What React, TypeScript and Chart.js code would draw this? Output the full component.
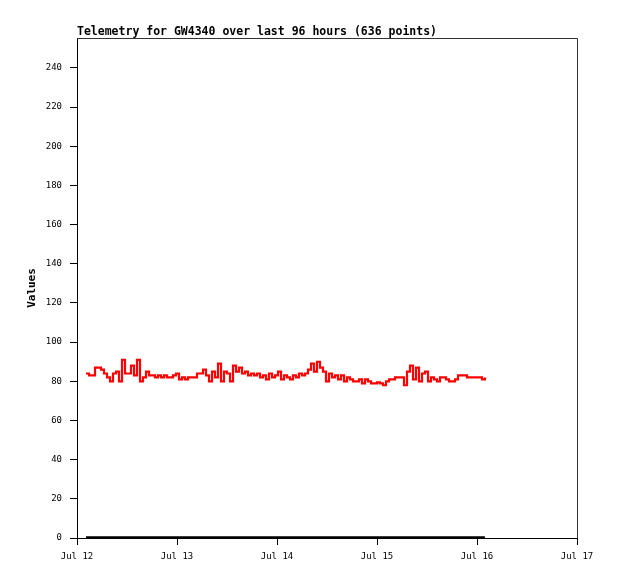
import React, { useEffect, useRef } from "react";
import { Chart, registerables, ChartConfiguration, Plugin } from "chart.js";

Chart.register(...registerables);

// hours since Jul 12 00:00
const startHour = 2.16;
const stepHour = 0.72;

const redValues = [
  84, 83, 83, 87, 87, 86, 84, 82, 80, 84, 85, 80, 91, 84, 84, 88, 83, 91, 80,
  82, 85, 83, 83, 82, 83, 82, 83, 82, 82, 83, 84, 81, 82, 81, 82, 82, 82, 84,
  84, 86, 83, 80, 85, 82, 89, 80, 85, 84, 80, 88, 85, 87, 84, 85, 83, 84, 83,
  84, 82, 83, 81, 84, 82, 83, 85, 81, 83, 82, 81, 83, 82, 84, 83, 84, 86, 89,
  85, 90, 87, 85, 80, 84, 82, 83, 81, 83, 80, 82, 81, 80, 80, 81, 79, 81, 80,
  79, 79, 79.5, 79, 78, 80, 81, 81, 82, 82, 82, 78, 85, 88, 81, 87, 80, 84, 85,
  80, 82, 81, 80, 82, 82, 81, 80, 80, 81, 83, 83, 83, 82, 82, 82, 82, 82, 81,
  82,
];

const baselineHours = [2.16, 97.9];
const baselineValues = [0.4, 0.4];

const yTicks = [0, 20, 40, 60, 80, 100, 120, 140, 160, 180, 200, 220, 240];
const xTicks = [0, 24, 48, 72, 96, 120];
const xTickLabels = ["Jul 12", "Jul 13", "Jul 14", "Jul 15", "Jul 16", "Jul 17"];

const titleText = "Telemetry for GW4340 over last 96 hours (636 points)";
const yTitleText = "Values";

const mono = "'DejaVu Sans Mono', 'Liberation Mono', monospace";

const decorations: Plugin<"line"> = {
  id: "decorations",
  afterDraw(chart) {
    const { ctx, chartArea } = chart;
    ctx.save();
    ctx.strokeStyle = "#333";
    ctx.lineWidth = 1;
    ctx.beginPath();
    ctx.moveTo(chartArea.left, chartArea.top + 0.5);
    ctx.lineTo(chartArea.right + 0.5, chartArea.top + 0.5);
    ctx.lineTo(chartArea.right + 0.5, chartArea.bottom);
    ctx.stroke();

    ctx.fillStyle = "#000";
    ctx.font = `bold 11.5px ${mono}`;
    ctx.textAlign = "left";
    ctx.textBaseline = "alphabetic";
    ctx.fillText(titleText, chartArea.left, chartArea.top - 3);

    ctx.translate(32, (chartArea.top + chartArea.bottom) / 2);
    ctx.rotate(-Math.PI / 2);
    ctx.font = `bold 11px ${mono}`;
    ctx.textAlign = "center";
    ctx.textBaseline = "middle";
    ctx.fillText(yTitleText, 0, 0);
    ctx.restore();
  },
};

const App: React.FC = () => {
  const canvasRef = useRef<HTMLCanvasElement | null>(null);

  useEffect(() => {
    if (!canvasRef.current) return;
    const ctx = canvasRef.current.getContext("2d");
    if (!ctx) return;

    const redPoints = redValues.map((v, i) => ({ x: startHour + i * stepHour, y: v }));
    const basePoints = baselineValues.map((v, i) => ({ x: baselineHours[i], y: v }));

    const config: ChartConfiguration<"line"> = {
      type: "line",
      data: {
        datasets: [
          {
            label: "baseline",
            data: basePoints,
            borderColor: "#000",
            borderWidth: 2,
            pointRadius: 0,
          },
          {
            label: "telemetry",
            data: redPoints,
            borderColor: "#ff0000",
            borderWidth: 2.2,
            pointRadius: 0,
            stepped: true,
          },
        ],
      },
      options: {
        responsive: false,
        animation: false,
        layout: { padding: { top: 38, right: 41, left: 0, bottom: 0 } },
        plugins: {
          legend: { display: false },
          tooltip: { enabled: false },
        },
        scales: {
          x: {
            type: "linear",
            min: 0,
            max: 120,
            afterBuildTicks: (s) => {
              s.ticks = xTicks.map((v) => ({ value: v }));
            },
            afterFit: (s) => {
              s.height = 41;
            },
            grid: { drawOnChartArea: false, drawTicks: true, tickLength: 7, color: "#000" },
            border: { color: "#000", width: 1 },
            ticks: {
              color: "#000",
              font: { family: mono, size: 9 },
              padding: 6,
              maxRotation: 0,
              autoSkip: false,
              callback: (v) => xTickLabels[xTicks.indexOf(Number(v))] ?? "",
            },
          },
          y: {
            min: 0,
            max: 255.3,
            afterBuildTicks: (s) => {
              s.ticks = yTicks.map((v) => ({ value: v }));
            },
            afterFit: (s) => {
              s.width = 77;
            },
            grid: { drawOnChartArea: false, drawTicks: true, tickLength: 7, color: "#000" },
            border: { color: "#000", width: 1 },
            ticks: {
              color: "#000",
              font: { family: mono, size: 9 },
              padding: 8,
              autoSkip: false,
            },
          },
        },
      },
      plugins: [decorations],
    };

    const chart = new Chart(ctx, config);
    return () => {
      chart.destroy();
    };
  }, []);

  return (
    <div style={{ position: "absolute", left: 0, top: 0, width: 618, height: 579, background: "#fff" }}>
      <canvas ref={canvasRef} width={618} height={579} style={{ display: "block" }} />
    </div>
  );
};

export default App;
